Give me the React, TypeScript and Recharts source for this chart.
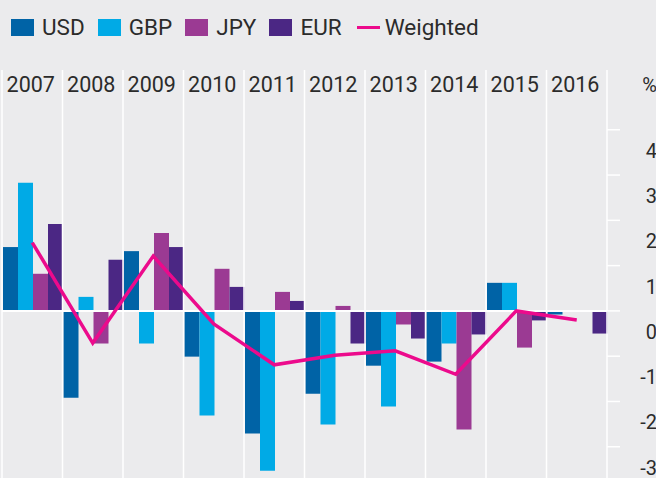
import React from "react"
import { Bar, ComposedChart, Legend, Line, ReferenceLine, XAxis, YAxis } from "recharts"

const years = ["2007", "2008", "2009", "2010", "2011", "2012", "2013", "2014", "2015", "2016"]
const usd = [1.41, -1.92, 1.32, -1.01, -2.71, -1.83, -1.21, -1.12, 0.62, -0.08]
const gbp = [2.83, 0.31, -0.72, -2.31, -3.53, -2.51, -2.11, -0.72, 0.62, -0.02]
const jpy = [0.82, -0.72, 1.72, 0.93, 0.42, 0.11, -0.3, -2.62, -0.81, 0.02]
const eur = [1.92, 1.13, 1.41, 0.53, 0.22, -0.72, -0.61, -0.52, -0.21, -0.5]
const weighted = [1.51, -0.71, 1.21, -0.29, -1.19, -0.98, -0.88, -1.4, 0.0, -0.2]
const yTicks = [-3, -2, -1, 0, 1, 2, 3, 4]

const series = [
  { key: "USD", color: "#0063a6" },
  { key: "GBP", color: "#00aae6" },
  { key: "JPY", color: "#9b3a93" },
  { key: "EUR", color: "#4b2784" },
]
const lineColor = "#ec0a8c"
const bg = "#ebebed"
const textColor = "#2b2b2b"
const font = "Roboto, sans-serif"

const data = years.map((year, i) => ({
  year,
  USD: usd[i],
  GBP: gbp[i],
  JPY: jpy[i],
  EUR: eur[i],
  Weighted: weighted[i],
}))

function LegendContent() {
  return (
    <div style={{ display: "flex", alignItems: "center", height: 50, paddingLeft: 11, paddingTop: 4, boxSizing: "border-box", fontFamily: font, fontSize: 22.5, color: textColor }}>
      {series.map((s) => (
        <div key={s.key} style={{ display: "flex", alignItems: "center", marginRight: 13 }}>
          <span style={{ width: 23, height: 17, background: s.color, display: "inline-block", marginRight: 8 }} />
          <span>{s.key}</span>
        </div>
      ))}
      <div style={{ display: "flex", alignItems: "center", marginLeft: 2 }}>
        <span style={{ width: 23, height: 3, background: lineColor, display: "inline-block", marginRight: 5 }} />
        <span>Weighted</span>
      </div>
    </div>
  )
}

function YearTick(props: any) {
  const { x, y, payload } = props
  return (
    <text x={x - 1.5} y={y} dy={30} textAnchor="middle" fontFamily={font} fontSize={21.5} fill={textColor}>
      {payload.value}
    </text>
  )
}

function ValueTick(props: any) {
  const { x, y, payload } = props
  return (
    <text x={x + 35} y={y} dy={28} textAnchor="end" fontFamily={font} fontSize={20} fill={textColor}>
      {payload.value}
    </text>
  )
}

export default function App() {
  return (
    <div style={{ position: "absolute", left: 0, top: 0, width: 656, height: 478, background: bg }}>
      <ComposedChart width={656} height={478} data={data} margin={{ top: 0, right: 0, left: 2, bottom: 0 }} barCategoryGap={1} barGap={0}>
        <Legend verticalAlign="top" align="left" height={50} content={<LegendContent />} wrapperStyle={{ top: 0, left: 0 }} />
        <XAxis dataKey="year" orientation="top" height={20} axisLine={false} tickLine={false} tick={<YearTick />} interval={0} />
        <YAxis
          orientation="right"
          width={49}
          domain={[-3.69, 5.32]}
          ticks={yTicks}
          allowDataOverflow
          axisLine={{ stroke: "#ffffff", strokeWidth: 1.5 }}
          tickLine={{ stroke: "#ffffff", strokeWidth: 1.5 }}
          tickSize={13}
          tick={<ValueTick />}
          label={{
            content: (p: any) => (
              <text x={p.viewBox.x + p.viewBox.width + 1} y={p.viewBox.y + 22} textAnchor="end" fontFamily={font} fontSize={20} fill={textColor}>
                %
              </text>
            ),
          }}
        />
        {series.map((s) => (
          <Bar key={s.key} dataKey={s.key} fill={s.color} isAnimationActive={false} />
        ))}
        <ReferenceLine y={0} stroke="#ffffff" strokeWidth={2} />
        {years.map((yr) => (
          <ReferenceLine key={yr} x={yr} position="start" stroke="#ffffff" strokeWidth={1.5} />
        ))}
        <Line dataKey="Weighted" stroke={lineColor} strokeWidth={3.5} dot={false} isAnimationActive={false} />
      </ComposedChart>
    </div>
  )
}
